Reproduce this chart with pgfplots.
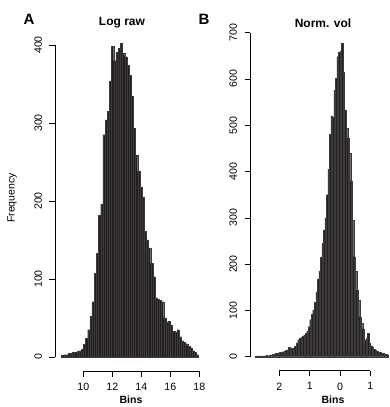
\documentclass[border=0pt]{standalone}
\usepackage{pgfplots}
\pgfplotsset{compat=1.18}
\usepackage{fontspec}
\setmainfont{Liberation Sans}
\definecolor{barfill}{HTML}{231F20}
\definecolor{baredge}{HTML}{3C3A3B}
\pgfplotsset{
  rhist/.style={
    scale only axis,
    clip=false,
    axis lines*=left,
    axis line style={draw=none},
    tick align=outside,
    major tick length=5.5pt,
    tick style={black, line width=0.6pt},
    /pgf/number format/assume math mode=true,
    ticklabel style={font=\fontsize{10.6}{12}\selectfont},
    yticklabel style={rotate=90, anchor=south},
    xticklabel style={anchor=north},
    xticklabel shift=3pt,
    yticklabel shift=4pt,
    scaled ticks=false,
  }
}
\begin{document}
\begin{tikzpicture}[x=1pt,y=1pt]
\useasboundingbox (0,0) rectangle (389,407);
% ---------------- Panel A ----------------
\begin{axis}[rhist,
  at={(55pt,36pt)}, anchor=south west,
  width=148.6pt, height=341.6pt,
  xmin=8.05, xmax=18.3, ymin=-18, ymax=420,
  xtick={10,12,14,16,18}, ytick={0,100,200,300,400},
]
\addplot[ybar interval, fill=barfill, draw=baredge, line width=0.15pt] table {
x y
8.50 2
8.65 3
8.80 3
8.95 5
9.10 5
9.25 6
9.40 6
9.55 7
9.70 8
9.85 10
10.00 16
10.15 24
10.30 35
10.45 52
10.60 71
10.75 107
10.90 133
11.05 182
11.20 196
11.35 285
11.50 304
11.65 315
11.80 354
11.95 398
12.10 380
12.25 391
12.40 396
12.55 402
12.70 389
12.85 385
13.00 374
13.15 361
13.30 334
13.45 293
13.60 259
13.75 238
13.90 218
14.05 205
14.20 161
14.35 150
14.50 140
14.65 120
14.80 103
14.95 76
15.10 74
15.25 73
15.40 71
15.55 50
15.70 45
15.85 46
16.00 41
16.15 33
16.30 32
16.45 35
16.60 26
16.75 21
16.90 19
17.05 17
17.20 14
17.35 12
17.50 8
17.65 6
17.80 3
17.95 3
};
\draw[line width=0.6pt] (axis cs:10,-18) -- (axis cs:18,-18);
\draw[line width=0.6pt] (axis cs:8.05,0) -- (axis cs:8.05,400);
\end{axis}
% ---------------- Panel B ----------------
\begin{axis}[rhist,
  at={(250pt,36.4pt)}, anchor=south west,
  width=139.1pt, height=341.2pt,
  xmin=-2.97, xmax=1.62, ymin=-30, ymax=707,
  xtick={-2,-1,0,1}, xticklabels={2,1,0,1},
  ytick={0,100,200,300,400,500,600,700},
]
\addplot[ybar interval, fill=barfill, draw=baredge, line width=0.15pt] table {
x y
-2.80 1
-2.75 2
-2.70 1
-2.65 2
-2.60 2
-2.55 1
-2.50 2
-2.45 3
-2.40 2
-2.35 3
-2.30 4
-2.25 5
-2.20 5
-2.15 7
-2.10 7
-2.05 8
-2.00 9
-1.95 10
-1.90 11
-1.85 12
-1.80 14
-1.75 15
-1.70 20
-1.65 19
-1.60 18
-1.55 19
-1.50 22
-1.45 30
-1.40 37
-1.35 40
-1.30 42
-1.25 44
-1.20 47
-1.15 50
-1.10 55
-1.05 65
-1.00 80
-0.95 92
-0.90 101
-0.85 118
-0.80 140
-0.75 168
-0.70 185
-0.65 215
-0.60 245
-0.55 274
-0.50 300
-0.45 350
-0.40 405
-0.35 480
-0.30 520
-0.25 518
-0.20 576
-0.15 601
-0.10 648
-0.05 657
0.00 660
0.05 677
0.10 615
0.15 533
0.20 493
0.25 472
0.30 440
0.35 380
0.40 295
0.45 216
0.50 184
0.55 144
0.60 122
0.65 86
0.70 72
0.75 60
0.80 36
0.85 40
0.90 50
0.95 30
1.00 24
1.05 20
1.10 16
1.15 14
1.20 12
1.25 10
1.30 9
1.35 8
1.40 7
1.45 6
1.50 5
1.55 4
1.60 4
};
\draw[line width=0.6pt] (axis cs:-2,-30) -- (axis cs:1,-30);
\draw[line width=0.6pt] (axis cs:-2.97,0) -- (axis cs:-2.97,700);
\end{axis}
% ---------------- Text ----------------
\node[font=\fontsize{15}{18}\selectfont\bfseries] at (29,388) {A};
\node[font=\fontsize{15}{18}\selectfont\bfseries] at (204,388) {B};
\node[font=\fontsize{12}{14}\selectfont\bfseries] at (122,384) {Log raw};
\node[font=\fontsize{12}{14}\selectfont\bfseries] at (323,384) {Norm. vol};
\node[font=\fontsize{10.5}{12}\selectfont\bfseries] at (131,7) {Bins};
\node[font=\fontsize{10.5}{12}\selectfont\bfseries] at (333,7) {Bins};
\node[font=\fontsize{10.5}{12}\selectfont, rotate=90] at (12,209) {Frequency};
\end{tikzpicture}
\end{document}
